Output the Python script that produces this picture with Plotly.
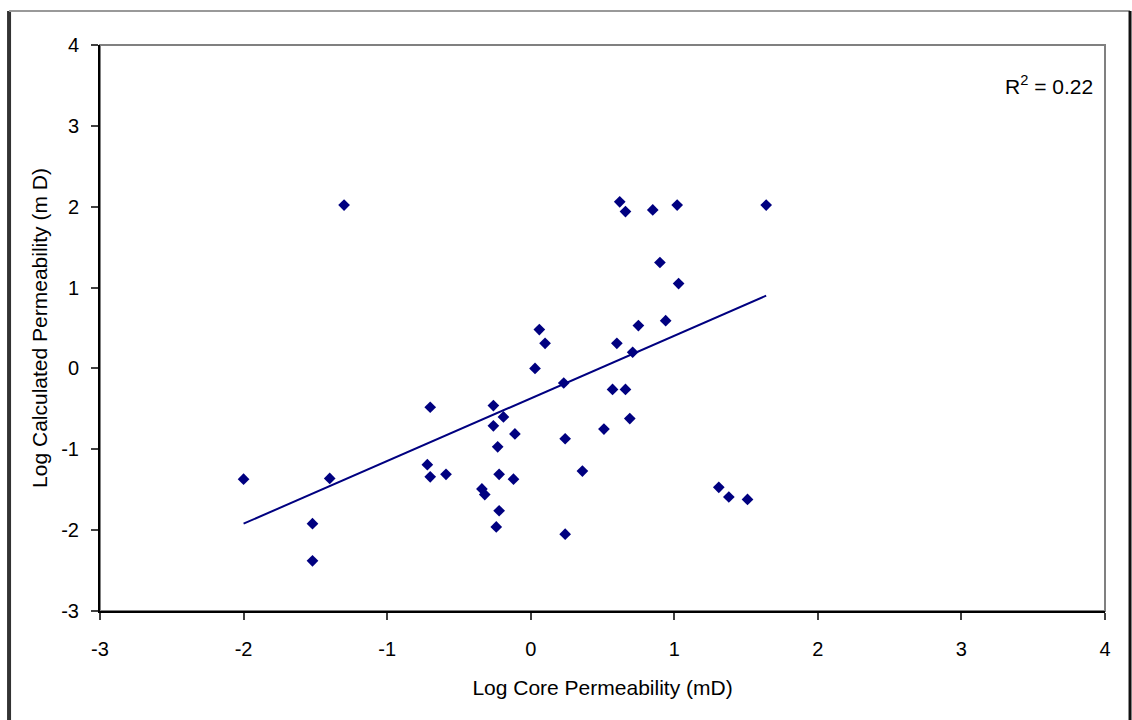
import plotly.graph_objects as go

core_perm = [-2.00, -1.52, -1.52, -1.40, -1.30, -0.70, -0.72, -0.70, -0.59, -0.26,
             -0.19, -0.26, -0.11, -0.23, -0.22, -0.12, -0.34, -0.32, -0.22, -0.24,
             0.03, 0.06, 0.10, 0.23, 0.24, 0.36, 0.24, 0.51, 0.57, 0.66,
             0.69, 0.60, 0.71, 0.75, 0.94, 0.90, 1.03, 0.62, 0.66, 0.85,
             1.02, 1.64, 1.31, 1.38, 1.51]
calc_perm = [-1.37, -1.92, -2.38, -1.36, 2.02, -0.48, -1.19, -1.34, -1.31, -0.46,
             -0.60, -0.71, -0.81, -0.97, -1.31, -1.37, -1.49, -1.56, -1.76, -1.96,
             0.00, 0.48, 0.31, -0.18, -0.87, -1.27, -2.05, -0.75, -0.26, -0.26,
             -0.62, 0.31, 0.20, 0.53, 0.59, 1.31, 1.05, 2.06, 1.94, 1.96,
             2.02, 2.02, -1.47, -1.59, -1.62]
# linear trend line as drawn in the reference (end points)
trend_x = [-2.00, 1.64]
trend_y = [-1.92, 0.90]
r2_label = "R<sup>2</sup> = 0.22"
tick_vals = [-3, -2, -1, 0, 1, 2, 3, 4]
tick_text = ["-3", "-2", "-1", "0", "1", "2", "3", "4"]

navy = "#000080"
fig = go.Figure()
fig.add_trace(go.Scatter(x=core_perm, y=calc_perm, mode="markers",
                         marker=dict(symbol="diamond", size=9, color=navy),
                         showlegend=False))
fig.add_trace(go.Scatter(x=trend_x, y=trend_y, mode="lines",
                         line=dict(color=navy, width=2), showlegend=False))

font = dict(family="Liberation Sans, Arial, sans-serif", size=20, color="#000000")
axis_common = dict(range=[-3, 4], tickvals=tick_vals, ticktext=tick_text,
                   showgrid=False, zeroline=False,
                   showline=True, linecolor="black", linewidth=2,
                   ticks="outside", ticklen=7, tickwidth=2, tickcolor="#404040",
                   tickfont=dict(size=20))
fig.update_layout(
    width=1132, height=720,
    margin=dict(l=100, r=27, t=45, b=109),
    paper_bgcolor="white", plot_bgcolor="white",
    font=font,
    xaxis=dict(**axis_common, ticklabelstandoff=12,
               title=dict(text="Log Core Permeability (mD)", standoff=21,
                          font=dict(size=21))),
    yaxis=dict(**axis_common, ticklabelstandoff=8,
               title=dict(text="Log Calculated Permeability (m D)", standoff=8,
                          font=dict(size=21))),
    shapes=[
        dict(type="rect", xref="paper", yref="paper", x0=0, x1=1, y0=0, y1=1,
             line=dict(color="#808080", width=2), layer="below"),
        # outer frame: left, top, right
        dict(type="line", xref="paper", yref="paper", x0=-0.0905, x1=-0.0905,
             y0=-0.2, y1=1.060, line=dict(color="#333333", width=4)),
        dict(type="line", xref="paper", yref="paper", x0=-0.0905, x1=1.0249,
             y0=1.060, y1=1.060, line=dict(color="#999999", width=2)),
        dict(type="line", xref="paper", yref="paper", x0=1.0249, x1=1.0249,
             y0=-0.2, y1=1.060, line=dict(color="#111111", width=3)),
    ],
    annotations=[
        dict(text=r2_label, xref="paper", yref="paper", x=0.99, y=0.93,
             xanchor="right", yanchor="middle", showarrow=False,
             font=dict(size=21))
    ],
)
fig.write_html("out.html")
